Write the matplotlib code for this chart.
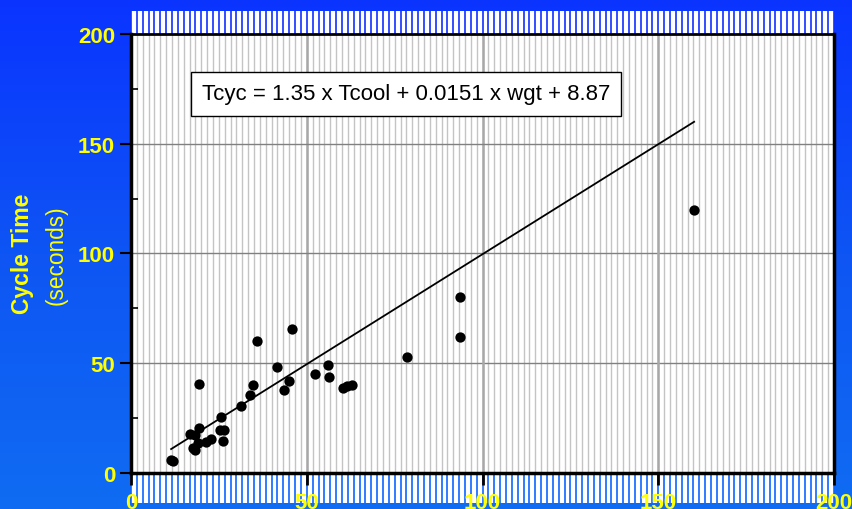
import numpy as np
import matplotlib
matplotlib.use("Agg")
import matplotlib.pyplot as plt
from matplotlib.colors import LinearSegmentedColormap
from matplotlib.patches import Rectangle

plt.rcParams['font.family'] = ['Liberation Sans', 'DejaVu Sans']

# cooling time vs cycle time
x_vals = [11.5, 12.0, 16.8, 18.2, 19.0, 18.2, 17.7, 19.3, 19.4, 21.3, 22.7,
          25.5, 25.3, 26.5, 26.3, 31.2, 33.9, 34.8, 35.7, 41.4, 43.5, 44.8,
          45.9, 52.3, 55.9, 56.4, 60.4, 61.4, 62.8, 78.5, 93.6, 93.6, 160.2]
y_vals = [6.0, 5.5, 17.8, 17.3, 13.7, 10.3, 11.5, 40.7, 20.6, 14.3, 15.4,
          25.4, 19.7, 19.7, 14.4, 30.7, 35.5, 40.1, 60.1, 48.1, 38.0, 41.9,
          65.6, 45.2, 49.2, 43.6, 38.6, 39.5, 40.1, 52.8, 80.2, 62.0, 119.8]

# fitted line end points
fit_x = [11.4, 160.2]
fit_y = [10.9, 160.0]

equation = "Tcyc = 1.35 x Tcool + 0.0151 x wgt + 8.87"
x_ticks = [0, 50, 100, 150, 200]
y_ticks = [0, 50, 100, 150, 200]

yellow = "#FFFF00"

fig = plt.figure(figsize=(8.52, 5.10), dpi=100)

# blue gradient background
bg = fig.add_axes([0, 0, 1, 1], zorder=-10)
cmap = LinearSegmentedColormap.from_list("bg", ["#0A34FF", "#0E55F4", "#106CF2"])
bg.imshow(np.linspace(0, 1, 256).reshape(-1, 1), aspect="auto", cmap=cmap,
          extent=[0, 1, 0, 1])
bg.axis("off")

ax = fig.add_axes([0.1538, 0.0706, 0.8251, 0.8608])
ax.set_facecolor("white")
ax.set_xlim(0, 200)
ax.set_ylim(0, 200)

minor = np.arange(0, 200.001, 50 / 30)

# striped bands above and below the plot
trans = ax.get_xaxis_transform()
ax.add_patch(Rectangle((0, 1.0), 200, 0.053, transform=trans, facecolor="white",
                       edgecolor="none", clip_on=False, zorder=-2))
ax.vlines(minor, 1.0, 1.053, transform=trans, colors="#1030FF", lw=1.2,
          clip_on=False, zorder=-1.5)
ax.add_patch(Rectangle((0, -0.068), 200, 0.068, transform=trans, facecolor="white",
                       edgecolor="none", clip_on=False, zorder=-2))
ax.vlines(minor, -0.068, 0, transform=trans, colors="#0A66FF", lw=1.2,
          clip_on=False, zorder=-1.5)

# grid
ax.vlines(minor, 0, 200, colors="#C4C4C4", lw=1.0, zorder=1)
for v in [50, 100, 150]:
    ax.axvline(v, color="#A8A8A8", lw=1.8, zorder=1.2)
    ax.axhline(v, color="#808080", lw=1.0, zorder=1.2)

ax.plot(fit_x, fit_y, color="black", lw=1.3, zorder=3)
ax.scatter(x_vals, y_vals, s=55, color="black", zorder=4, linewidths=0)

ax.text(78.2, 172.7, equation, fontsize=16, ha="center", va="center", zorder=5,
        bbox=dict(boxstyle="square,pad=0.5", facecolor="white",
                  edgecolor="black", lw=1.0))

for side in ["left", "right", "bottom"]:
    ax.spines[side].set_linewidth(2.5)
ax.spines["top"].set_linewidth(2.0)

ax.set_xticks(x_ticks)
ax.set_yticks(y_ticks)
ax.set_yticks([25, 75, 125, 175], minor=True)
ax.tick_params(axis="y", which="major", direction="out", length=8, width=1.5,
               labelsize=16, labelcolor=yellow, pad=3.5)
ax.tick_params(axis="y", which="minor", direction="in", length=5, width=1.2)
ax.tick_params(axis="x", which="major", direction="out", length=8.5, width=2.0,
               labelsize=16, labelcolor=yellow, pad=5.5)
for lab in ax.get_xticklabels() + ax.get_yticklabels():
    lab.set_fontweight("bold")

fig.text(0.026, 0.502, "Cycle Time", rotation=90, color=yellow, fontsize=16.5,
         fontweight="bold", ha="center", va="center")
fig.text(0.066, 0.50, "(seconds)", rotation=90, color=yellow, fontsize=16.3,
         ha="center", va="center")

fig.savefig("out.png", dpi=100)
